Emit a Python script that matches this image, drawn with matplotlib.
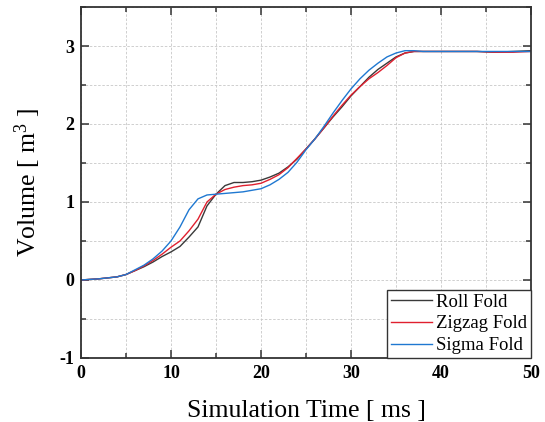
import matplotlib
matplotlib.use("Agg")
import matplotlib.pyplot as plt
from matplotlib.ticker import MultipleLocator

# simulation time [ms]
time_ms = [0, 2, 4, 5, 6, 7, 8, 9, 10, 11, 12, 13, 14, 15, 16, 17, 18, 19, 20,
           21, 22, 23, 24, 25, 26, 27, 28, 29, 30, 31, 32, 33, 34, 35, 36, 37,
           38, 40, 42, 44, 46, 48, 50]

# volume [m^3] for each fold type
roll_fold = [0, 0.015, 0.04, 0.07, 0.12, 0.17, 0.23, 0.30, 0.36, 0.43, 0.55,
             0.68, 0.95, 1.10, 1.21, 1.25, 1.25, 1.26, 1.28, 1.32, 1.37, 1.45,
             1.55, 1.68, 1.81, 1.95, 2.09, 2.22, 2.36, 2.48, 2.60, 2.70, 2.78,
             2.86, 2.91, 2.93, 2.93, 2.93, 2.93, 2.93, 2.92, 2.93, 2.94]
zigzag_fold = [0, 0.015, 0.04, 0.07, 0.12, 0.18, 0.25, 0.33, 0.42, 0.50, 0.63,
               0.78, 1.00, 1.10, 1.16, 1.19, 1.21, 1.22, 1.24, 1.29, 1.35, 1.44,
               1.56, 1.68, 1.81, 1.95, 2.10, 2.24, 2.37, 2.48, 2.58, 2.66, 2.75,
               2.85, 2.91, 2.93, 2.93, 2.93, 2.93, 2.93, 2.92, 2.92, 2.93]
sigma_fold = [0, 0.015, 0.04, 0.07, 0.13, 0.19, 0.27, 0.37, 0.50, 0.68, 0.90,
              1.04, 1.09, 1.10, 1.11, 1.12, 1.13, 1.15, 1.17, 1.22, 1.29, 1.38,
              1.51, 1.67, 1.81, 1.97, 2.14, 2.30, 2.45, 2.58, 2.69, 2.78, 2.86,
              2.91, 2.94, 2.94, 2.93, 2.93, 2.93, 2.93, 2.93, 2.93, 2.93]

plt.rcParams['font.family'] = ['Liberation Serif', 'DejaVu Serif']
plt.rcParams['mathtext.fontset'] = 'custom'
plt.rcParams['mathtext.rm'] = 'Liberation Serif'
plt.rcParams['mathtext.it'] = 'Liberation Serif:italic'
plt.rcParams['axes.unicode_minus'] = False

fig = plt.figure(figsize=(5.45, 4.22), dpi=100)
ax = fig.add_axes([0.1486, 0.1517, 0.8257, 0.8317])

ax.plot(time_ms, roll_fold, color='#3a3a3a', lw=1.0, label='Roll Fold')
ax.plot(time_ms, zigzag_fold, color='#e0202f', lw=1.0, label='Zigzag Fold')
ax.plot(time_ms, sigma_fold, color='#1f78d1', lw=1.0, label='Sigma Fold')

ax.set_xlim(0, 50)
ax.set_ylim(-1, 3.5)
ax.xaxis.set_major_locator(MultipleLocator(10))
ax.xaxis.set_minor_locator(MultipleLocator(5))
ax.yaxis.set_major_locator(MultipleLocator(1))
ax.yaxis.set_minor_locator(MultipleLocator(0.5))

ax.grid(True, which='both', ls=(0, (3, 2)), color='#c8c8c8', lw=0.6)
ax.set_axisbelow(True)

for s in ax.spines.values():
    s.set_color('#333333')
    s.set_linewidth(1.3)

ax.tick_params(which='both', direction='in', top=True, right=True,
               color='#333333', width=1.1)
ax.tick_params(which='major', length=6, labelsize=13, pad=5)
ax.tick_params(which='minor', length=3.5)
for lbl in ax.get_xticklabels() + ax.get_yticklabels():
    lbl.set_fontweight('bold')

ax.set_xlabel('Simulation Time [ ms ]', fontsize=18.5, labelpad=13)
ax.set_ylabel(r'Volume [ m$^3$ ]', fontsize=18.5, labelpad=12)

leg = ax.legend(loc='lower right', fontsize=13.5, borderaxespad=0,
                fancybox=False, framealpha=1, edgecolor='#333333',
                handlelength=2.2, handletextpad=0.2, labelspacing=0.25,
                borderpad=0.2)
leg.get_frame().set_linewidth(1.0)

fig.savefig('out.png', dpi=100)
